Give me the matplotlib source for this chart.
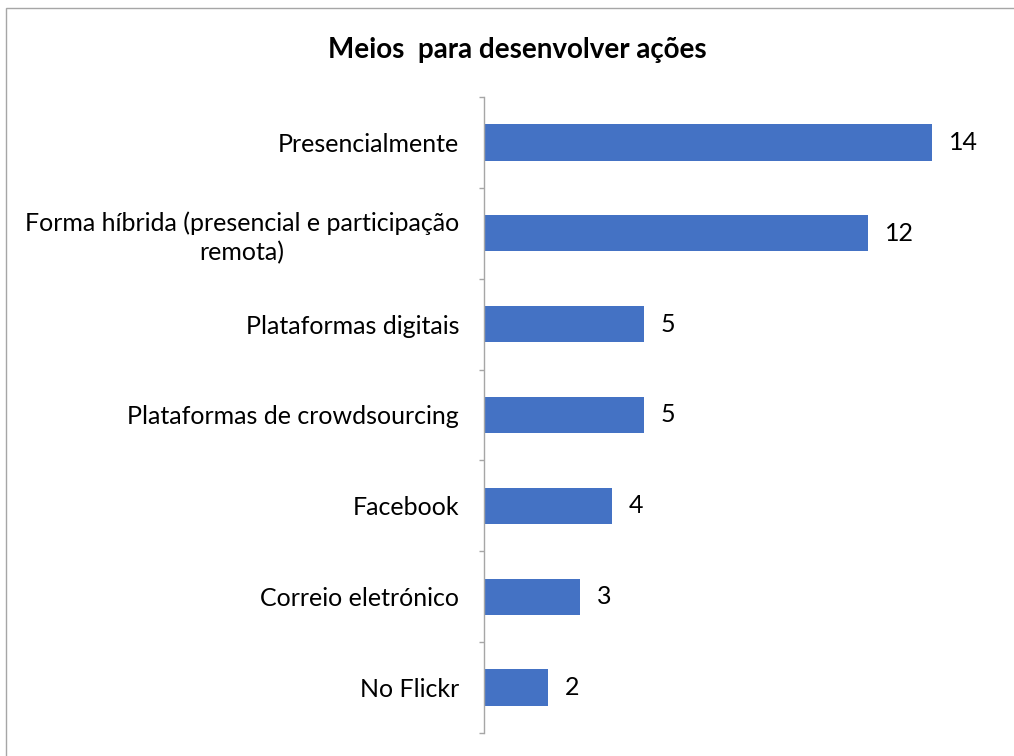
import matplotlib.pyplot as plt
from matplotlib.patches import Rectangle
import numpy as np

categories = [
    "Presencialmente",
    "Forma híbrida (presencial e participação\nremota)",
    "Plataformas digitais",
    "Plataformas de crowdsourcing",
    "Facebook",
    "Correio eletrónico",
    "No Flickr",
]
values = [14, 12, 5, 5, 4, 3, 2]
title = "Meios  para desenvolver ações"

plt.rcParams['font.family'] = ['Lato', 'DejaVu Sans']

W, H = 1014, 756
fig = plt.figure(figsize=(W / 100, H / 100), dpi=100)
ax = fig.add_axes([484 / W, 1 - 733 / H, 512 / W, (733 - 97) / H])

y = np.arange(len(categories))
bars = ax.barh(y, values, height=0.4, color="#4472C4")
ax.bar_label(bars, labels=[str(v) for v in values], padding=12, fontsize=18, color="black")

ax.set_xlim(0, 16)
ax.set_ylim(len(categories) - 0.5, -0.5)
ax.set_xticks([])
ax.set_yticks(y)
ax.set_yticklabels(categories, fontsize=18, multialignment="center", linespacing=1.3)
ax.tick_params(axis="y", which="major", length=0, pad=18)
ax.set_yticks(np.arange(-0.5, len(categories), 1), minor=True)
ax.tick_params(axis="y", which="minor", length=3.6, width=1, color="#A6A6A6", direction="out")
for s in ["top", "right", "bottom"]:
    ax.spines[s].set_visible(False)
ax.spines["left"].set_color("#A6A6A6")
ax.spines["left"].set_linewidth(1)

fig.text(517 / W, 1 - 50 / H, title, ha="center", va="center", fontsize=20, fontweight="bold")

# chart border
fig.patches.append(Rectangle((6 / W, -0.1), 1.2, 1 - 8 / H + 0.1, transform=fig.transFigure,
                             fill=False, edgecolor="#A6A6A6", linewidth=1))

fig.savefig("out.png", dpi=100)
